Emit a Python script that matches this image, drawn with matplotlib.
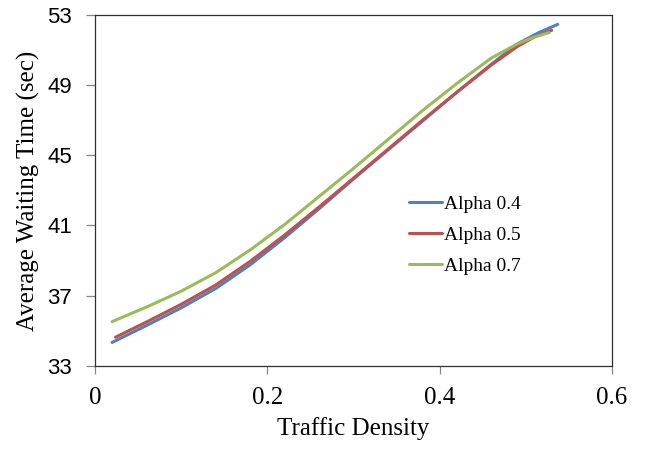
import numpy as np
import matplotlib
matplotlib.use('Agg')
import matplotlib.pyplot as plt

# data
x_a04 = [0.02, 0.06, 0.10, 0.14, 0.18, 0.22, 0.26, 0.30, 0.34, 0.38, 0.42, 0.46, 0.49, 0.515, 0.537]
y_a04 = [34.33, 35.3, 36.3, 37.4, 38.75, 40.3, 41.95, 43.65, 45.3, 46.95, 48.6, 50.2, 51.35, 52.0, 52.47]

x_a05 = [0.024, 0.06, 0.10, 0.14, 0.18, 0.22, 0.26, 0.30, 0.34, 0.38, 0.42, 0.46, 0.49, 0.51, 0.53]
y_a05 = [34.63, 35.5, 36.5, 37.6, 38.95, 40.45, 42.05, 43.7, 45.35, 47.0, 48.6, 50.15, 51.2, 51.75, 52.13]

x_a07 = [0.02, 0.06, 0.10, 0.14, 0.18, 0.22, 0.26, 0.30, 0.34, 0.38, 0.42, 0.46, 0.49, 0.51, 0.527]
y_a07 = [35.52, 36.35, 37.25, 38.3, 39.6, 41.05, 42.65, 44.25, 45.9, 47.55, 49.1, 50.55, 51.35, 51.75, 52.0]

labels = ['Alpha 0.4', 'Alpha 0.5', 'Alpha 0.7']
colors = ['#4F81BD', '#C0504D', '#9BBB59']

xticks = [0, 0.2, 0.4, 0.6]
xticklabels = ['0', '0.2', '0.4', '0.6']
yticks = [33, 37, 41, 45, 49, 53]

serif = 'Liberation Serif'
sans = 'Liberation Sans'

fig = plt.figure(figsize=(6.45, 4.55), dpi=100)
ax = fig.add_axes([0.147, 0.196, 0.802, 0.771])

for xs, ys, lab, col in zip([x_a04, x_a05, x_a07], [y_a04, y_a05, y_a07], labels, colors):
    ax.plot(xs, ys, color=col, lw=2.2, label=lab, solid_capstyle='round')

ax.set_xlim(0, 0.6)
ax.set_ylim(33, 53)
ax.set_xticks(xticks)
ax.set_xticklabels(xticklabels, fontfamily=serif, fontsize=18)
ax.set_yticks(yticks)
ax.set_yticklabels([str(v) for v in yticks], fontfamily=sans, fontsize=16)
ax.tick_params(axis='x', direction='out', length=6, width=0.9, color='#868686', pad=9)
ax.tick_params(axis='y', direction='out', length=6.5, width=0.9, color='#868686', pad=10)

for s in ax.spines.values():
    s.set_color('#303030')
    s.set_linewidth(0.9)

ax.set_xlabel('Traffic Density', fontfamily=serif, fontsize=18, labelpad=6)
ax.set_ylabel('Average Waiting Time (sec)', fontfamily=serif, fontsize=18, labelpad=5)

ax.legend(loc='center left', bbox_to_anchor=(0.574, 0.373), frameon=False,
          prop={'family': serif, 'size': 14}, handlelength=1.7, handletextpad=0.1,
          labelspacing=0.7)

plt.savefig('out.png', dpi=100)
